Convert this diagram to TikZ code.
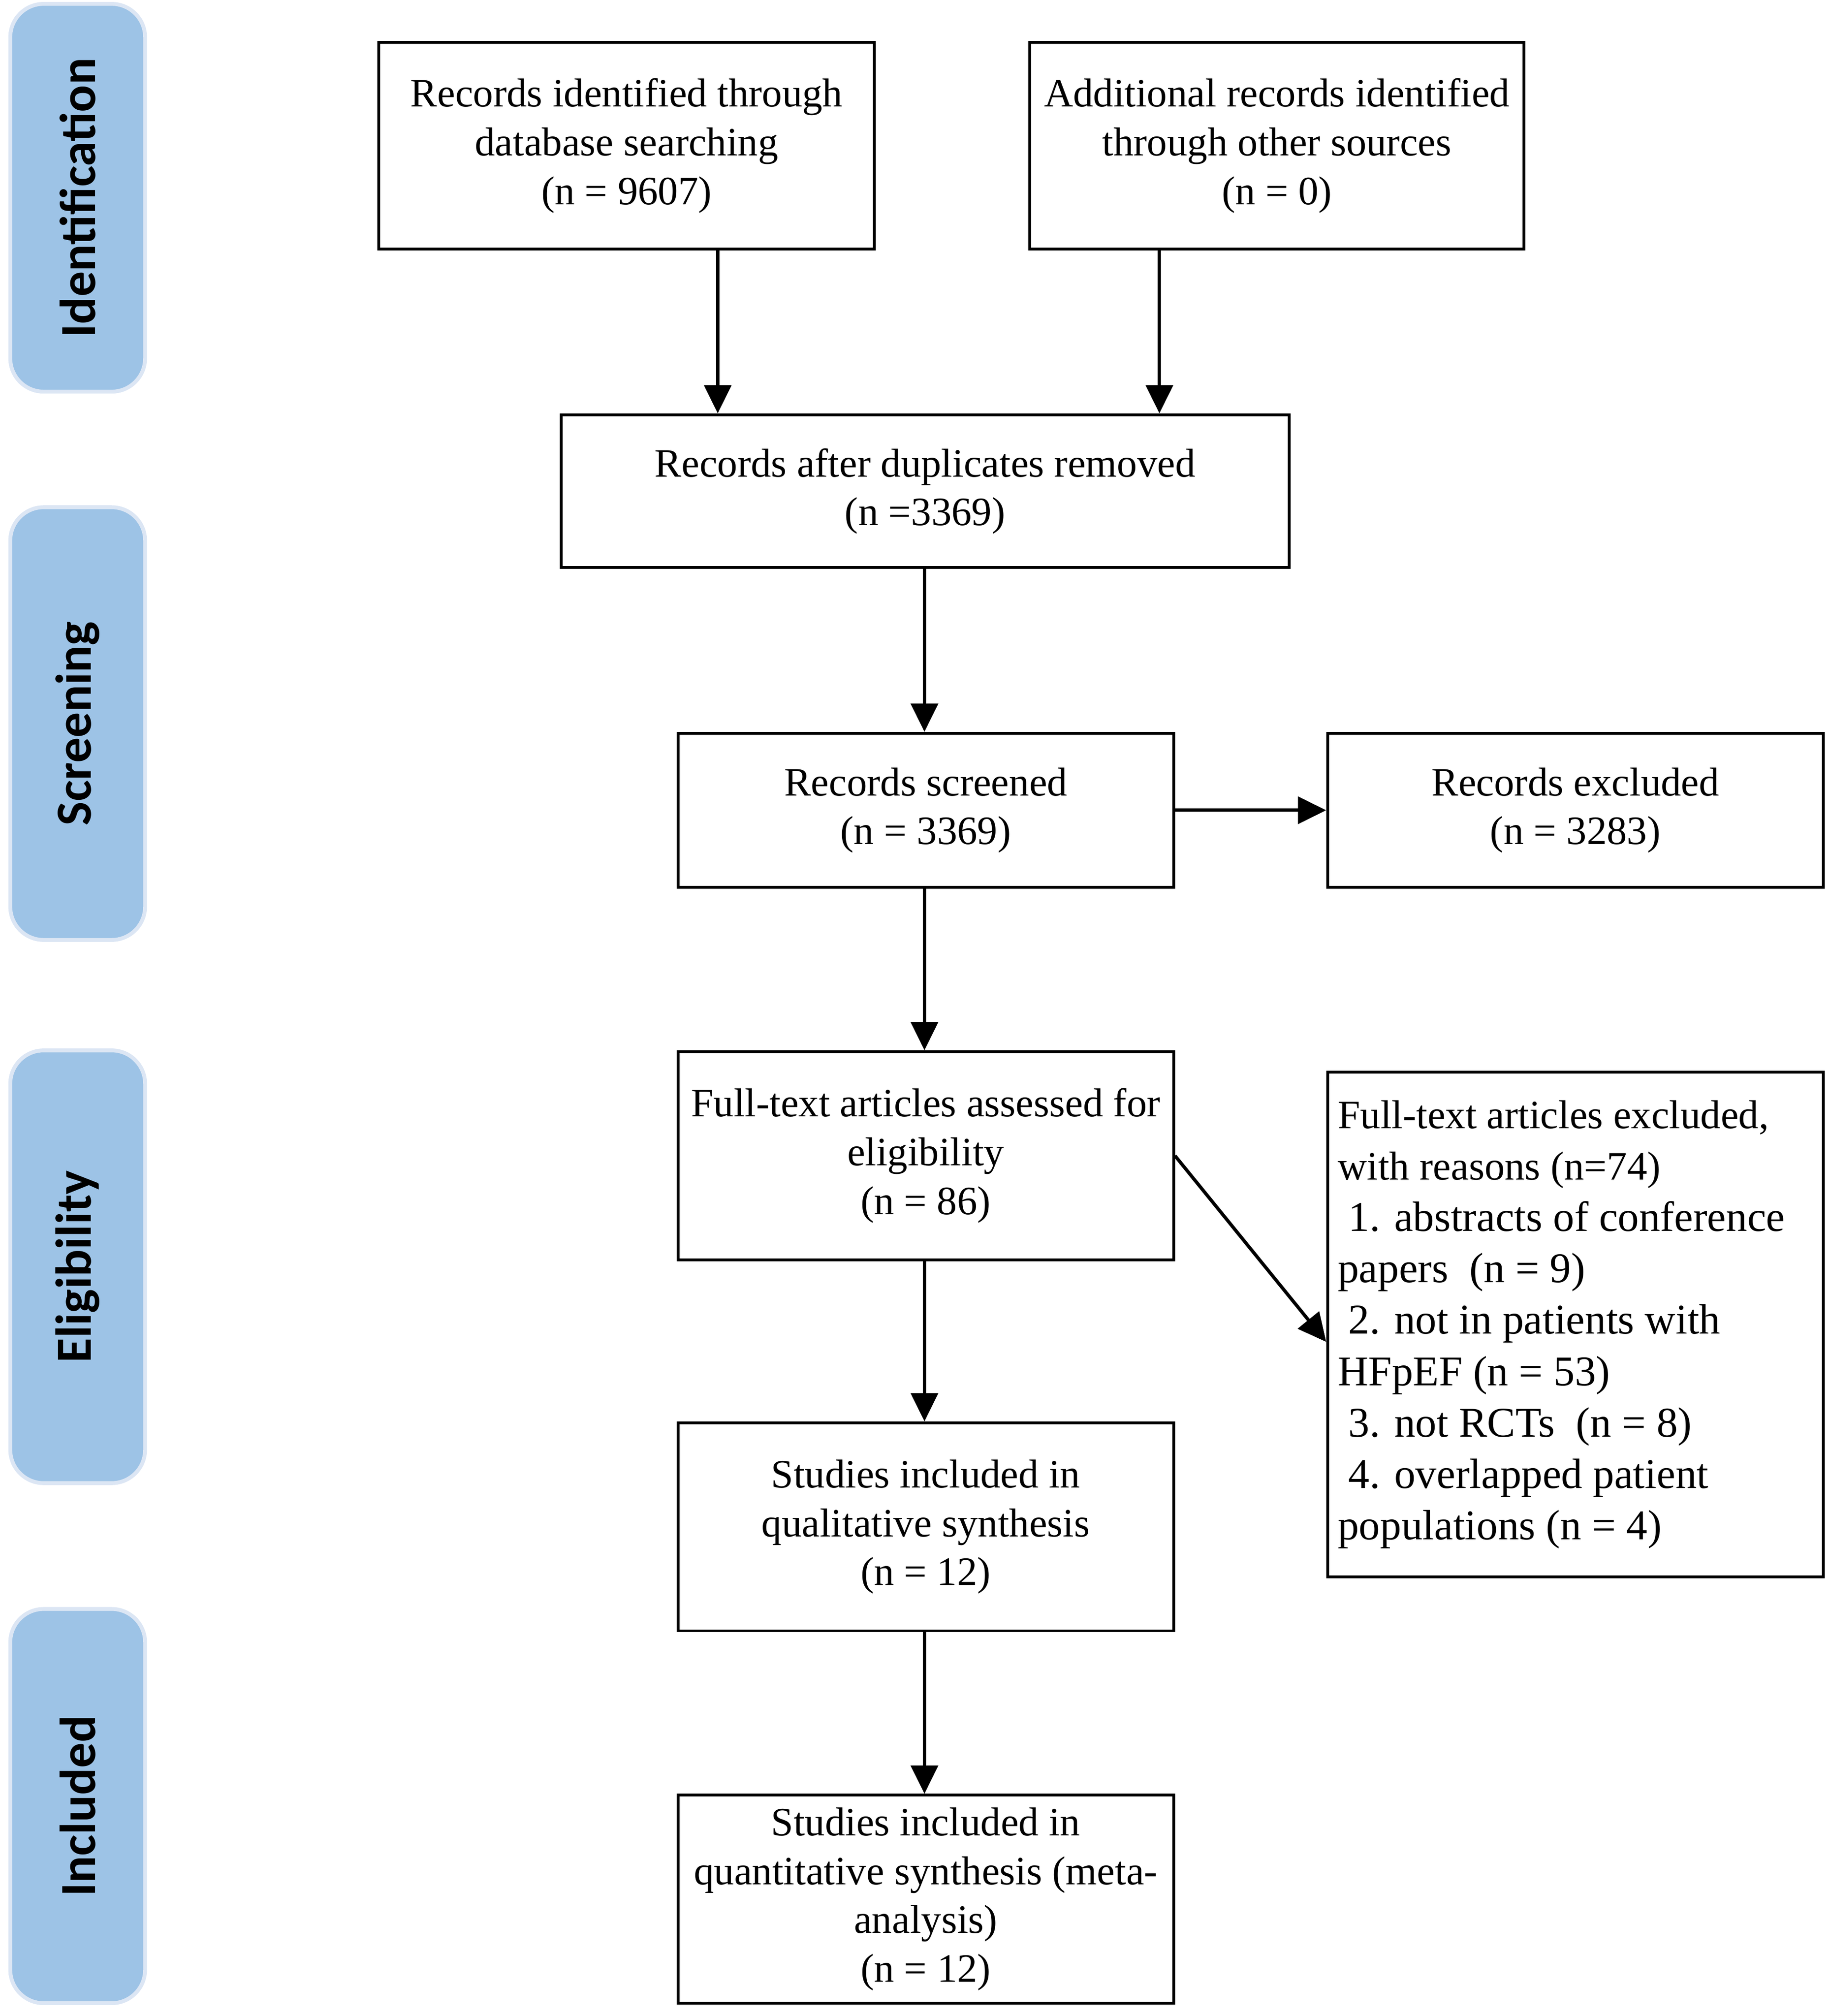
\documentclass[tikz,border=0pt]{standalone}
\usepackage{fontspec}
\setmainfont{Liberation Serif}
\newfontfamily\sidefont{Carlito}
\usetikzlibrary{arrows.meta}
\definecolor{barblue}{RGB}{157,195,230}
\definecolor{baredge}{RGB}{220,230,244}
\begin{document}
\begin{tikzpicture}[x=0.5pt,y=-0.5pt,
  flow/.style={draw,line width=1.1pt,fill=white,inner sep=0pt,align=center,
    font=\fontsize{15.7}{19}\selectfont},
  arr/.style={-{Triangle[width=10.5pt,length=11pt]},line width=1.3pt},
  stage/.style={draw=baredge,line width=1.5pt,fill=barblue,rounded corners=13pt,
    rotate=90,minimum height=52.5pt,inner sep=0pt,
    font=\sidefont\bfseries\fontsize{19.7}{22}\selectfont},
]
\useasboundingbox (0,0) rectangle (1425,1570);

% stage bars
\node[stage,minimum width=151pt]   (sIdent) at (60.5,154)   {Identification};
\node[stage,minimum width=168.5pt] (sScr)   at (60.5,563.5) {Screening};
\node[stage,minimum width=168.5pt] (sElig)  at (60.5,986.5) {Eligibility};
\node[stage,minimum width=153.5pt] (sIncl)  at (60.5,1406.5){Included};

% flow boxes
\node[flow,minimum width=193pt,minimum height=80.5pt] (B1) at (488,113.5)
  {Records identified through\\database searching\\(n = 9607)};
\node[flow,minimum width=192.5pt,minimum height=80.5pt] (B2) at (994.5,113.5)
  {Additional records identified\\through other sources\\(n = 0)};
\node[flow,minimum width=283.5pt,minimum height=59.5pt] (B3) at (720.5,382.5)
  {Records after duplicates removed\\(n =3369)};
\node[flow,minimum width=193pt,minimum height=60pt] (B4) at (721,631)
  {Records screened\\(n = 3369)};
\node[flow,minimum width=193pt,minimum height=60pt] (B5) at (1227,631)
  {Records excluded\\(n = 3283)};
\node[flow,minimum width=193pt,minimum height=81pt] (B6) at (721,900)
  {Full-text articles assessed for\\eligibility\\(n = 86)};
\node[flow,minimum width=193pt,minimum height=196.5pt,align=flush left,
  text width=185pt,inner xsep=4pt,font=\fontsize{16.5}{20}\selectfont] (B7) at (1227,1031.5)
  {{\fontsize{15.7}{20}\selectfont Full-text articles excluded,}\\
   {\fontsize{15.7}{20}\selectfont with reasons (n=74)}\\
   \hspace*{0.25em}1. abstracts of conference\\
   papers\ \ (n = 9)\\
   \hspace*{0.25em}2. not in patients with\\
   HFpEF (n = 53)\\
   \hspace*{0.25em}3. not RCTs\ \ (n = 8)\\
   \hspace*{0.25em}4. overlapped patient\\
   populations (n = 4)};
\node[flow,minimum width=193pt,minimum height=81pt] (B8) at (721,1189)
  {Studies included in\\qualitative synthesis\\(n = 12)};
\node[flow,minimum width=193pt,minimum height=81pt] (B9) at (721,1479)
  {Studies included in\\quantitative synthesis (meta-\\analysis)\\(n = 12)};

% connectors
\coordinate (c1) at (559,0);
\coordinate (c2) at (903,0);
\coordinate (c3) at (720,0);
\draw[arr] (B1.south -| c1) -- (B3.north -| c1);
\draw[arr] (B2.south -| c2) -- (B3.north -| c2);
\draw[arr] (B3.south -| c3) -- (B4.north -| c3);
\draw[arr] (B4.east) -- (B5.west);
\draw[arr] (B4.south -| c3) -- (B6.north -| c3);
\draw[arr] (B6.east) -- ([yshift=-6.75pt]B7.west);
\draw[arr] (B6.south -| c3) -- (B8.north -| c3);
\draw[arr] (B8.south -| c3) -- (B9.north -| c3);
\end{tikzpicture}
\end{document}
